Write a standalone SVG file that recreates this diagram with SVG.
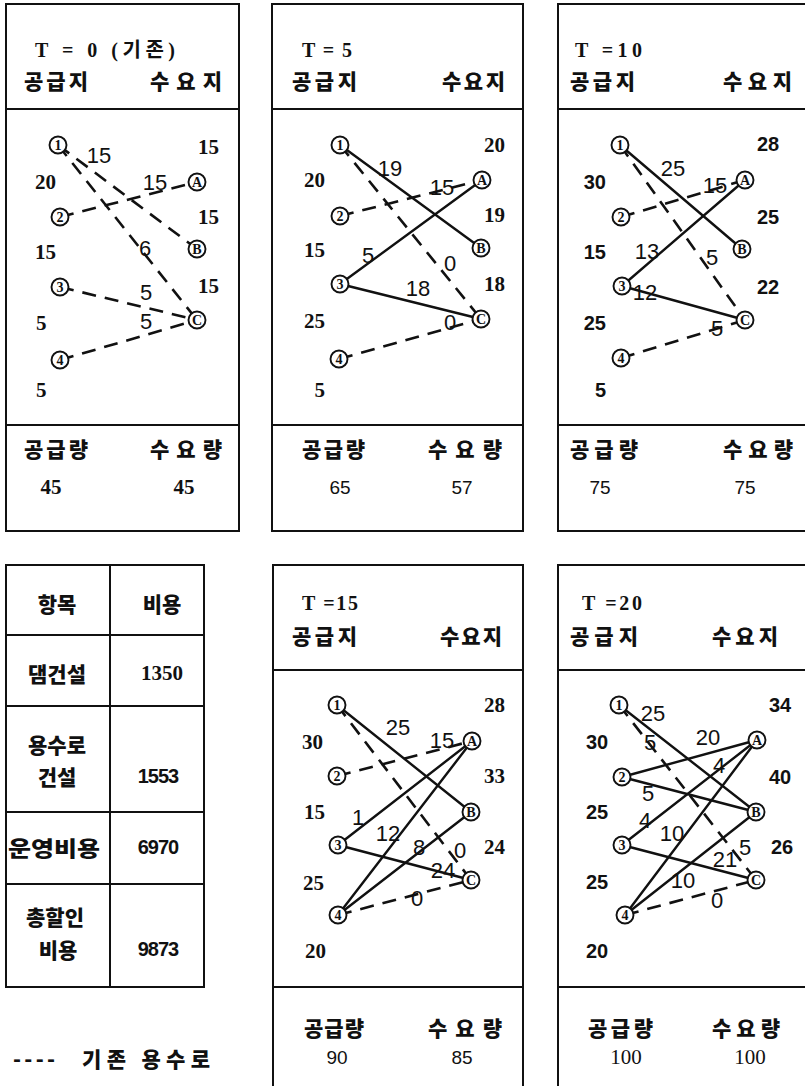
<svg xmlns="http://www.w3.org/2000/svg" width="805" height="1086" viewBox="0 0 805 1086">
<style>
.bg{fill:#fff}
.frame{fill:none;stroke:#111;stroke-width:2}
.rule{stroke:#111;stroke-width:2}
.solid{stroke:#111;stroke-width:2.4;fill:none;stroke-linecap:round}
.dash{stroke:#111;stroke-width:2.6;fill:none;stroke-dasharray:14 9}
text{fill:#111}
.hdr{font-family:"Liberation Serif","Noto Sans CJK KR",serif;font-weight:bold;font-size:20px;dominant-baseline:central}
.ko{font-family:"Noto Sans CJK KR",sans-serif;font-weight:900;font-size:21px;dominant-baseline:central}
.num{font-family:"Liberation Serif",serif;font-weight:bold;font-size:21px;dominant-baseline:central}
.numr{font-family:"Liberation Serif",serif;font-weight:normal;font-size:21px;text-anchor:middle;dominant-baseline:central}
.nums{font-family:"Liberation Sans",sans-serif;font-weight:bold;font-size:20px;dominant-baseline:central}
.tot{font-family:"Liberation Sans",sans-serif;font-size:19px;text-anchor:middle;dominant-baseline:central}
.lab{font-family:"Liberation Sans",sans-serif;font-size:22px;text-anchor:middle;dominant-baseline:central}
.end{text-anchor:end}
.mid{text-anchor:middle}
.nc{fill:#fff;stroke:#111;stroke-width:1.9}
.nd{font-family:"Liberation Serif",serif;font-weight:bold;font-size:14px;text-anchor:middle;dominant-baseline:central}
</style>
<rect class="bg" x="0" y="0" width="805" height="1086"/>

<!-- ================= Panel T=0 ================= -->
<g id="panel-t0">
  <rect class="frame" x="6" y="4" width="233" height="527"/>
  <line class="rule" x1="6" y1="109" x2="239" y2="109"/>
  <line class="rule" x1="6" y1="425" x2="239" y2="425"/>
  <text class="hdr" x="35" y="50" textLength="140" lengthAdjust="spacing">T = 0 (기존)</text>
  <text class="ko" x="24" y="80" textLength="64" lengthAdjust="spacing">공급지</text>
  <text class="ko" x="150" y="80" textLength="72" lengthAdjust="spacing">수요지</text>
  <text class="num" x="35" y="182">20</text>
  <text class="num" x="35" y="252">15</text>
  <text class="num" x="36" y="323">5</text>
  <text class="num" x="36" y="390">5</text>
  <text class="num" x="198" y="147">15</text>
  <text class="num" x="198" y="217">15</text>
  <text class="num" x="198" y="286">15</text>
  <text class="ko" x="24" y="448" textLength="64" lengthAdjust="spacing">공급량</text>
  <text class="ko" x="150" y="448" textLength="72" lengthAdjust="spacing">수요량</text>
  <text class="num mid" x="51" y="487">45</text>
  <text class="num mid" x="184" y="487">45</text>
</g>

<!-- ================= Panel T=5 ================= -->
<g id="panel-t5">
  <rect class="frame" x="272" y="4" width="251" height="527"/>
  <line class="rule" x1="272" y1="109" x2="523" y2="109"/>
  <line class="rule" x1="272" y1="425" x2="523" y2="425"/>
  <text class="hdr" x="302" y="50" textLength="50" lengthAdjust="spacing">T = 5</text>
  <text class="ko" x="292" y="80" textLength="65" lengthAdjust="spacing">공급지</text>
  <text class="ko" x="442" y="80" textLength="63" lengthAdjust="spacing">수요지</text>
  <text class="num end" x="325" y="180">20</text>
  <text class="num end" x="325" y="250">15</text>
  <text class="num end" x="325" y="321">25</text>
  <text class="num end" x="325" y="390">5</text>
  <text class="num" x="484" y="145">20</text>
  <text class="num" x="484" y="215">19</text>
  <text class="num" x="484" y="284">18</text>
  <text class="ko" x="302" y="448" textLength="63" lengthAdjust="spacing">공급량</text>
  <text class="ko" x="428" y="448" textLength="74" lengthAdjust="spacing">수요량</text>
  <text class="tot" x="340" y="487">65</text>
  <text class="tot" x="462" y="487">57</text>
</g>

<!-- ================= Panel T=10 ================= -->
<g id="panel-t10">
  <rect class="frame" x="558" y="4" width="262" height="527"/>
  <line class="rule" x1="558" y1="109" x2="805" y2="109"/>
  <line class="rule" x1="558" y1="425" x2="805" y2="425"/>
  <text class="hdr" x="575" y="50" textLength="67" lengthAdjust="spacing">T =10</text>
  <text class="ko" x="570" y="80" textLength="65" lengthAdjust="spacing">공급지</text>
  <text class="ko" x="723" y="80" textLength="69" lengthAdjust="spacing">수요지</text>
  <text class="nums end" x="606" y="182">30</text>
  <text class="nums end" x="606" y="252">15</text>
  <text class="nums end" x="606" y="323">25</text>
  <text class="nums end" x="606" y="390">5</text>
  <text class="nums" x="757" y="144">28</text>
  <text class="nums" x="757" y="217">25</text>
  <text class="nums" x="757" y="287">22</text>
  <text class="ko" x="570" y="448" textLength="68" lengthAdjust="spacing">공급량</text>
  <text class="ko" x="723" y="448" textLength="70" lengthAdjust="spacing">수요량</text>
  <text class="tot" x="600" y="487">75</text>
  <text class="tot" x="745" y="487">75</text>
</g>

<!-- ================= Cost table ================= -->
<g id="cost-table">
  <rect class="frame" x="6" y="565" width="198" height="422"/>
  <line class="rule" x1="110" y1="565" x2="110" y2="987"/>
  <line class="rule" x1="6" y1="635" x2="204" y2="635"/>
  <line class="rule" x1="6" y1="706" x2="204" y2="706"/>
  <line class="rule" x1="6" y1="812" x2="204" y2="812"/>
  <line class="rule" x1="6" y1="884" x2="204" y2="884"/>
  <text class="ko mid" x="57" y="603">항목</text>
  <text class="ko mid" x="162" y="603">비용</text>
  <text class="ko mid" x="57" y="673">댐건설</text>
  <text class="num mid" x="162" y="673">1350</text>
  <text class="ko mid" x="57" y="744">용수로</text>
  <text class="ko mid" x="57" y="776">건설</text>
  <text class="nums mid" x="158" y="776" letter-spacing="-1">1553</text>
  <text class="ko mid" x="54" y="847" textLength="92" lengthAdjust="spacingAndGlyphs">운영비용</text>
  <text class="nums mid" x="158" y="847" letter-spacing="-1">6970</text>
  <text class="ko mid" x="55" y="916">총할인</text>
  <text class="ko mid" x="58" y="949">비용</text>
  <text class="nums mid" x="158" y="949" letter-spacing="-1">9873</text>
</g>

<!-- ================= Legend ================= -->
<g id="legend">
  <text class="ko" x="13" y="1058" textLength="42" lengthAdjust="spacing">----</text>
  <text class="ko" x="82" y="1058" textLength="128" lengthAdjust="spacing">기존 용수로</text>
</g>

<!-- ================= Panel T=15 ================= -->
<g id="panel-t15">
  <rect class="frame" x="273" y="565" width="250" height="540"/>
  <line class="rule" x1="273" y1="670" x2="523" y2="670"/>
  <line class="rule" x1="273" y1="987" x2="523" y2="987"/>
  <text class="hdr" x="302" y="603" textLength="56" lengthAdjust="spacing">T =15</text>
  <text class="ko" x="292" y="635" textLength="65" lengthAdjust="spacing">공급지</text>
  <text class="ko" x="440" y="635" textLength="62" lengthAdjust="spacing">수요지</text>
  <text class="num" x="302" y="742">30</text>
  <text class="num" x="304" y="812">15</text>
  <text class="num" x="303" y="883">25</text>
  <text class="num" x="305" y="951">20</text>
  <text class="num" x="484" y="705">28</text>
  <text class="num" x="484" y="776">33</text>
  <text class="num" x="484" y="847">24</text>
  <text class="ko" x="304" y="1027" textLength="60" lengthAdjust="spacing">공급량</text>
  <text class="ko" x="428" y="1027" textLength="74" lengthAdjust="spacing">수요량</text>
  <text class="tot" x="337" y="1057">90</text>
  <text class="tot" x="462" y="1057">85</text>
</g>

<!-- ================= Panel T=20 ================= -->
<g id="panel-t20">
  <rect class="frame" x="558" y="565" width="262" height="540"/>
  <line class="rule" x1="558" y1="670" x2="805" y2="670"/>
  <line class="rule" x1="558" y1="987" x2="805" y2="987"/>
  <text class="hdr" x="582" y="603" textLength="60" lengthAdjust="spacing">T =20</text>
  <text class="ko" x="570" y="635" textLength="68" lengthAdjust="spacing">공급지</text>
  <text class="ko" x="712" y="635" textLength="66" lengthAdjust="spacing">수요지</text>
  <text class="nums" x="586" y="742">30</text>
  <text class="nums" x="586" y="812">25</text>
  <text class="nums" x="586" y="882">25</text>
  <text class="nums" x="586" y="951">20</text>
  <text class="nums" x="769" y="705">34</text>
  <text class="nums" x="769" y="777">40</text>
  <text class="nums" x="771" y="847">26</text>
  <text class="ko" x="588" y="1027" textLength="65" lengthAdjust="spacing">공급량</text>
  <text class="ko" x="712" y="1027" textLength="68" lengthAdjust="spacing">수요량</text>
  <text class="numr" x="626" y="1057">100</text>
  <text class="numr" x="750" y="1057">100</text>
</g>

<!-- ================= Connectors ================= -->
<g id="connectors">
  <!-- T=0 -->
  <line class="dash" x1="58" y1="145" x2="197" y2="249"/>
  <line class="dash" x1="58" y1="145" x2="197" y2="320"/>
  <line class="dash" x1="60" y1="217" x2="197" y2="182"/>
  <line class="dash" x1="60" y1="287" x2="197" y2="320"/>
  <line class="dash" x1="60" y1="360" x2="197" y2="320"/>
  <!-- T=5 -->
  <line class="solid" x1="340" y1="145" x2="481" y2="248"/>
  <line class="dash" x1="340" y1="145" x2="481" y2="319"/>
  <line class="dash" x1="340" y1="216" x2="482" y2="180"/>
  <line class="solid" x1="340" y1="284" x2="482" y2="180"/>
  <line class="solid" x1="340" y1="284" x2="481" y2="319"/>
  <line class="dash" x1="339" y1="359" x2="481" y2="319"/>
  <!-- T=10 -->
  <line class="solid" x1="620" y1="145" x2="742" y2="249"/>
  <line class="dash" x1="620" y1="145" x2="745" y2="320"/>
  <line class="dash" x1="621" y1="217" x2="745" y2="180"/>
  <line class="solid" x1="622" y1="286" x2="745" y2="180"/>
  <line class="solid" x1="622" y1="286" x2="745" y2="320"/>
  <line class="dash" x1="621" y1="358" x2="745" y2="320"/>
  <!-- T=15 -->
  <line class="solid" x1="337" y1="705" x2="471" y2="812"/>
  <line class="dash" x1="337" y1="705" x2="471" y2="880"/>
  <line class="dash" x1="337" y1="776" x2="472" y2="741"/>
  <line class="solid" x1="338" y1="845" x2="472" y2="741"/>
  <line class="solid" x1="338" y1="845" x2="471" y2="880"/>
  <line class="solid" x1="338" y1="915" x2="472" y2="741"/>
  <line class="solid" x1="338" y1="915" x2="471" y2="812"/>
  <line class="dash" x1="338" y1="915" x2="471" y2="880"/>
  <!-- T=20 -->
  <line class="solid" x1="619" y1="705" x2="756" y2="812"/>
  <line class="dash" x1="619" y1="705" x2="756" y2="880"/>
  <line class="solid" x1="622" y1="777" x2="757" y2="740"/>
  <line class="solid" x1="622" y1="777" x2="756" y2="812"/>
  <line class="solid" x1="622" y1="845" x2="757" y2="740"/>
  <line class="solid" x1="622" y1="845" x2="756" y2="880"/>
  <line class="solid" x1="625" y1="915" x2="757" y2="740"/>
  <line class="solid" x1="625" y1="915" x2="756" y2="812"/>
  <line class="dash" x1="625" y1="915" x2="756" y2="880"/>
</g>

<!-- ================= Connector labels ================= -->
<g id="connector-labels">
  <text class="lab" x="99" y="155">15</text>
  <text class="lab" x="155" y="182">15</text>
  <text class="lab" x="145" y="248">6</text>
  <text class="lab" x="146" y="292">5</text>
  <text class="lab" x="146" y="321">5</text>

  <text class="lab" x="390" y="168">19</text>
  <text class="lab" x="442" y="187">15</text>
  <text class="lab" x="368" y="255">5</text>
  <text class="lab" x="450" y="263">0</text>
  <text class="lab" x="418" y="288">18</text>
  <text class="lab" x="450" y="322">0</text>

  <text class="lab" x="673" y="168">25</text>
  <text class="lab" x="715" y="185">15</text>
  <text class="lab" x="647" y="251">13</text>
  <text class="lab" x="712" y="257">5</text>
  <text class="lab" x="645" y="292">12</text>
  <text class="lab" x="717" y="328">5</text>

  <text class="lab" x="398" y="727">25</text>
  <text class="lab" x="442" y="740">15</text>
  <text class="lab" x="358" y="817">1</text>
  <text class="lab" x="388" y="833">12</text>
  <text class="lab" x="419" y="847">8</text>
  <text class="lab" x="460" y="850">0</text>
  <text class="lab" x="443" y="870">24</text>
  <text class="lab" x="417" y="898">0</text>

  <text class="lab" x="653" y="713">25</text>
  <text class="lab" x="650" y="742">5</text>
  <text class="lab" x="708" y="737">20</text>
  <text class="lab" x="719" y="765" font-size="20">4</text>
  <text class="lab" x="648" y="793">5</text>
  <text class="lab" x="645" y="820">4</text>
  <text class="lab" x="672" y="833">10</text>
  <text class="lab" x="745" y="847">5</text>
  <text class="lab" x="725" y="859">21</text>
  <text class="lab" x="683" y="880">10</text>
  <text class="lab" x="717" y="900">0</text>
</g>

<!-- ================= Nodes ================= -->
<g id="t0-n1"><circle class="nc" cx="58" cy="145" r="8.5"/><text class="nd" x="58" y="145">1</text></g>
<g id="t0-n2"><circle class="nc" cx="60" cy="217" r="8.5"/><text class="nd" x="60" y="217">2</text></g>
<g id="t0-n3"><circle class="nc" cx="60" cy="287" r="8.5"/><text class="nd" x="60" y="287">3</text></g>
<g id="t0-n4"><circle class="nc" cx="60" cy="360" r="8.5"/><text class="nd" x="60" y="360">4</text></g>
<g id="t0-nA"><circle class="nc" cx="197" cy="182" r="8.5"/><text class="nd" x="197" y="182">A</text></g>
<g id="t0-nB"><circle class="nc" cx="197" cy="249" r="8.5"/><text class="nd" x="197" y="249">B</text></g>
<g id="t0-nC"><circle class="nc" cx="197" cy="320" r="8.5"/><text class="nd" x="197" y="320">C</text></g>

<g id="t5-n1"><circle class="nc" cx="340" cy="145" r="8.5"/><text class="nd" x="340" y="145">1</text></g>
<g id="t5-n2"><circle class="nc" cx="340" cy="216" r="8.5"/><text class="nd" x="340" y="216">2</text></g>
<g id="t5-n3"><circle class="nc" cx="340" cy="284" r="8.5"/><text class="nd" x="340" y="284">3</text></g>
<g id="t5-n4"><circle class="nc" cx="339" cy="359" r="8.5"/><text class="nd" x="339" y="359">4</text></g>
<g id="t5-nA"><circle class="nc" cx="482" cy="180" r="8.5"/><text class="nd" x="482" y="180">A</text></g>
<g id="t5-nB"><circle class="nc" cx="481" cy="248" r="8.5"/><text class="nd" x="481" y="248">B</text></g>
<g id="t5-nC"><circle class="nc" cx="481" cy="319" r="8.5"/><text class="nd" x="481" y="319">C</text></g>

<g id="t10-n1"><circle class="nc" cx="620" cy="145" r="8.5"/><text class="nd" x="620" y="145">1</text></g>
<g id="t10-n2"><circle class="nc" cx="621" cy="217" r="8.5"/><text class="nd" x="621" y="217">2</text></g>
<g id="t10-n3"><circle class="nc" cx="622" cy="286" r="8.5"/><text class="nd" x="622" y="286">3</text></g>
<g id="t10-n4"><circle class="nc" cx="621" cy="358" r="8.5"/><text class="nd" x="621" y="358">4</text></g>
<g id="t10-nA"><circle class="nc" cx="745" cy="180" r="8.5"/><text class="nd" x="745" y="180">A</text></g>
<g id="t10-nB"><circle class="nc" cx="742" cy="249" r="8.5"/><text class="nd" x="742" y="249">B</text></g>
<g id="t10-nC"><circle class="nc" cx="745" cy="320" r="8.5"/><text class="nd" x="745" y="320">C</text></g>

<g id="t15-n1"><circle class="nc" cx="337" cy="705" r="8.5"/><text class="nd" x="337" y="705">1</text></g>
<g id="t15-n2"><circle class="nc" cx="337" cy="776" r="8.5"/><text class="nd" x="337" y="776">2</text></g>
<g id="t15-n3"><circle class="nc" cx="338" cy="845" r="8.5"/><text class="nd" x="338" y="845">3</text></g>
<g id="t15-n4"><circle class="nc" cx="338" cy="915" r="8.5"/><text class="nd" x="338" y="915">4</text></g>
<g id="t15-nA"><circle class="nc" cx="472" cy="741" r="8.5"/><text class="nd" x="472" y="741">A</text></g>
<g id="t15-nB"><circle class="nc" cx="471" cy="812" r="8.5"/><text class="nd" x="471" y="812">B</text></g>
<g id="t15-nC"><circle class="nc" cx="471" cy="880" r="8.5"/><text class="nd" x="471" y="880">C</text></g>

<g id="t20-n1"><circle class="nc" cx="619" cy="705" r="8.5"/><text class="nd" x="619" y="705">1</text></g>
<g id="t20-n2"><circle class="nc" cx="622" cy="777" r="8.5"/><text class="nd" x="622" y="777">2</text></g>
<g id="t20-n3"><circle class="nc" cx="622" cy="845" r="8.5"/><text class="nd" x="622" y="845">3</text></g>
<g id="t20-n4"><circle class="nc" cx="625" cy="915" r="8.5"/><text class="nd" x="625" y="915">4</text></g>
<g id="t20-nA"><circle class="nc" cx="757" cy="740" r="8.5"/><text class="nd" x="757" y="740">A</text></g>
<g id="t20-nB"><circle class="nc" cx="756" cy="812" r="8.5"/><text class="nd" x="756" y="812">B</text></g>
<g id="t20-nC"><circle class="nc" cx="756" cy="880" r="8.5"/><text class="nd" x="756" y="880">C</text></g>
</svg>
